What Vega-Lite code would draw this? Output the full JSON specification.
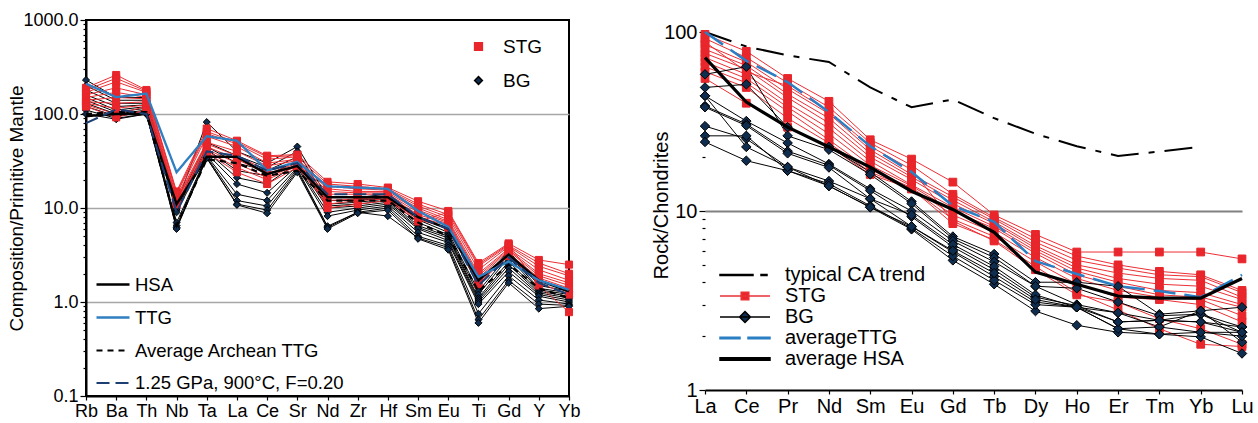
{
 "$schema": "https://vega.github.io/schema/vega-lite/v6.json",
 "background": "white",
 "padding": {"left": 6, "top": 10, "right": 5, "bottom": 0},
 "bounds": "flush",
 "spacing": 136,
 "resolve": {"scale": {"x": "independent", "y": "independent", "color": "independent", "shape": "independent", "fill": "independent", "stroke": "independent", "strokeDash": "independent", "strokeWidth": "independent", "size": "independent"}},
 "config": {
  "font": "Liberation Sans",
  "view": {"stroke": "black", "strokeWidth": 2},
  "axis": {"labelFont": "Liberation Sans", "titleFont": "Liberation Sans", "labelColor": "black", "titleColor": "black", "titleFontWeight": "normal", "domainColor": "black", "domainWidth": 2, "tickColor": "black", "tickWidth": 1.2, "labelOverlap": false},
  "legend": {"labelFont": "Liberation Sans", "labelColor": "black", "padding": 0, "labelLimit": 400}
 },
 "datasets": {
  "aRef": [
   {"series": "HSA", "Rb": 95, "Ba": 100, "Th": 100, "Nb": 11, "Ta": 35, "La": 35, "Ce": 23, "Sr": 28, "Nd": 13, "Zr": 13, "Hf": 13, "Sm": 8, "Eu": 6, "Ti": 1.7, "Gd": 3.2, "Y": 1.7, "Yb": 1.3},
   {"series": "TTG", "Rb": 210, "Ba": 151, "Th": 165, "Nb": 24, "Ta": 58, "La": 52, "Ce": 25, "Sr": 31, "Nd": 17, "Zr": 16.5, "Hf": 16, "Sm": 9.3, "Eu": 6.3, "Ti": 1.85, "Gd": 2.7, "Y": 1.7, "Yb": 1.35},
   {"series": "Average Archean TTG", "Rb": 100, "Ba": 105, "Th": 105, "Nb": 6.5, "Ta": 33, "La": 30, "Ce": 22, "Sr": 25, "Nd": 12, "Zr": 12, "Hf": 12, "Sm": 7, "Eu": 5, "Ti": 1.3, "Gd": 2.5, "Y": 1.4, "Yb": 1.1},
   {"series": "1.25 GPa, 900°C, F=0.20", "Rb": 80, "Ba": 112, "Th": 100, "Nb": 9, "Ta": 40, "La": 36, "Ce": 25, "Sr": 30, "Nd": 14, "Zr": 14, "Hf": 14, "Sm": 8, "Eu": 6, "Ti": 1.5, "Gd": 3, "Y": 1.6, "Yb": 1.2}
  ],
  "aSam": [
   {"g": "BG", "s": "B1", "Rb": 230, "Ba": 150, "Th": 150, "Nb": 11, "Ta": 82, "La": 40, "Ce": 30, "Sr": 45, "Nd": 13, "Zr": 13, "Hf": 14, "Sm": 8, "Eu": 6, "Ti": 1.5, "Gd": 3.5, "Y": 1.5, "Yb": 1.3},
   {"g": "BG", "s": "B2", "Rb": 200, "Ba": 140, "Th": 140, "Nb": 10.5, "Ta": 50, "La": 36, "Ce": 27, "Sr": 40, "Nd": 12, "Zr": 12, "Hf": 13, "Sm": 7.5, "Eu": 5.5, "Ti": 1.3, "Gd": 3.2, "Y": 1.4, "Yb": 1.25},
   {"g": "BG", "s": "B3", "Rb": 180, "Ba": 130, "Th": 130, "Nb": 10, "Ta": 45, "La": 30, "Ce": 25, "Sr": 35, "Nd": 11, "Zr": 11.5, "Hf": 12.5, "Sm": 7, "Eu": 5.2, "Ti": 1.2, "Gd": 3.0, "Y": 1.35, "Yb": 1.2},
   {"g": "BG", "s": "B4", "Rb": 160, "Ba": 120, "Th": 125, "Nb": 10, "Ta": 42, "La": 25, "Ce": 22, "Sr": 32, "Nd": 10.5, "Zr": 11, "Hf": 12, "Sm": 6.5, "Eu": 5, "Ti": 1.1, "Gd": 2.7, "Y": 1.3, "Yb": 1.15},
   {"g": "BG", "s": "B5", "Rb": 150, "Ba": 110, "Th": 120, "Nb": 9.5, "Ta": 40, "La": 21, "Ce": 18, "Sr": 30, "Nd": 10, "Zr": 10.5, "Hf": 11.5, "Sm": 6.2, "Eu": 4.8, "Ti": 1.05, "Gd": 2.5, "Y": 1.25, "Yb": 1.1},
   {"g": "BG", "s": "B6", "Rb": 140, "Ba": 105, "Th": 115, "Nb": 9, "Ta": 38, "La": 18, "Ce": 14.5, "Sr": 28, "Nd": 9, "Zr": 10, "Hf": 11, "Sm": 6, "Eu": 4.5, "Ti": 1.0, "Gd": 2.3, "Y": 1.2, "Yb": 1.05},
   {"g": "BG", "s": "B7", "Rb": 130, "Ba": 100, "Th": 110, "Nb": 7, "Ta": 36, "La": 14, "Ce": 12, "Sr": 27, "Nd": 8.2, "Zr": 9.5, "Hf": 10.5, "Sm": 5.5, "Eu": 4.3, "Ti": 0.95, "Gd": 2.1, "Y": 1.15, "Yb": 1.0},
   {"g": "BG", "s": "B8", "Rb": 120, "Ba": 95, "Th": 105, "Nb": 6.5, "Ta": 35, "La": 12, "Ce": 10.5, "Sr": 26, "Nd": 6.4, "Zr": 9, "Hf": 10, "Sm": 5, "Eu": 4, "Ti": 0.75, "Gd": 1.9, "Y": 1.05, "Yb": 0.95},
   {"g": "BG", "s": "B9", "Rb": 110, "Ba": 90, "Th": 100, "Nb": 6.2, "Ta": 34, "La": 11, "Ce": 9.5, "Sr": 25, "Nd": 6.2, "Zr": 9, "Hf": 8.2, "Sm": 4.8, "Eu": 3.8, "Ti": 0.65, "Gd": 1.7, "Y": 0.95, "Yb": 0.92},
   {"g": "BG", "s": "B10", "Rb": 100, "Ba": 88, "Th": 100, "Nb": 6, "Ta": 34, "La": 10.8, "Ce": 8.8, "Sr": 24, "Nd": 6, "Zr": 8.8, "Hf": 9.5, "Sm": 4.7, "Eu": 3.6, "Ti": 0.6, "Gd": 1.6, "Y": 0.85, "Yb": 0.9},
   {"g": "STG", "s": "S1", "Rb": 190, "Ba": 260, "Th": 180, "Nb": 15, "Ta": 70, "La": 52, "Ce": 36, "Sr": 37, "Nd": 19, "Zr": 18, "Hf": 16.5, "Sm": 11.8, "Eu": 9.3, "Ti": 2.6, "Gd": 4.2, "Y": 2.8, "Yb": 2.5},
   {"g": "STG", "s": "S2", "Rb": 170, "Ba": 220, "Th": 170, "Nb": 14, "Ta": 62, "La": 48, "Ce": 33, "Sr": 35, "Nd": 18, "Zr": 17, "Hf": 16, "Sm": 11, "Eu": 8.5, "Ti": 2.4, "Gd": 4.0, "Y": 2.6, "Yb": 2.0},
   {"g": "STG", "s": "S3", "Rb": 160, "Ba": 190, "Th": 160, "Nb": 13, "Ta": 58, "La": 45, "Ce": 30, "Sr": 33, "Nd": 17, "Zr": 16, "Hf": 15.5, "Sm": 10.5, "Eu": 8.0, "Ti": 2.2, "Gd": 3.9, "Y": 2.4, "Yb": 1.9},
   {"g": "STG", "s": "S4", "Rb": 150, "Ba": 170, "Th": 150, "Nb": 12.5, "Ta": 50, "La": 40, "Ce": 28, "Sr": 32, "Nd": 16, "Zr": 15, "Hf": 15, "Sm": 10, "Eu": 7.5, "Ti": 2.0, "Gd": 3.7, "Y": 2.2, "Yb": 1.7},
   {"g": "STG", "s": "S5", "Rb": 140, "Ba": 150, "Th": 145, "Nb": 12, "Ta": 48, "La": 36, "Ce": 25, "Sr": 31, "Nd": 15, "Zr": 14.5, "Hf": 14.5, "Sm": 9.5, "Eu": 7.2, "Ti": 1.9, "Gd": 3.6, "Y": 2.0, "Yb": 1.6},
   {"g": "STG", "s": "S6", "Rb": 135, "Ba": 130, "Th": 135, "Nb": 12, "Ta": 45, "La": 33, "Ce": 23, "Sr": 30, "Nd": 14, "Zr": 14, "Hf": 14, "Sm": 9, "Eu": 7.0, "Ti": 1.8, "Gd": 3.5, "Y": 1.9, "Yb": 1.5},
   {"g": "STG", "s": "S7", "Rb": 130, "Ba": 115, "Th": 125, "Nb": 11.5, "Ta": 42, "La": 30, "Ce": 21, "Sr": 29, "Nd": 13, "Zr": 13, "Hf": 13.5, "Sm": 8.5, "Eu": 6.8, "Ti": 1.7, "Gd": 3.3, "Y": 1.8, "Yb": 1.4},
   {"g": "STG", "s": "S8", "Rb": 125, "Ba": 100, "Th": 120, "Nb": 11, "Ta": 40, "La": 27, "Ce": 20, "Sr": 28, "Nd": 12, "Zr": 12.5, "Hf": 13, "Sm": 8, "Eu": 6.5, "Ti": 1.6, "Gd": 3.2, "Y": 1.7, "Yb": 1.3},
   {"g": "STG", "s": "S9", "Rb": 120, "Ba": 92, "Th": 110, "Nb": 11, "Ta": 39, "La": 24, "Ce": 18, "Sr": 27, "Nd": 11, "Zr": 12, "Hf": 12.5, "Sm": 7.5, "Eu": 6.2, "Ti": 1.55, "Gd": 3.1, "Y": 1.6, "Yb": 1.2},
   {"g": "STG", "s": "S10", "Rb": 180, "Ba": 240, "Th": 175, "Nb": 14.5, "Ta": 65, "La": 50, "Ce": 35, "Sr": 36, "Nd": 10, "Zr": 11, "Hf": 12, "Sm": 7.2, "Eu": 9, "Ti": 2.5, "Gd": 4.1, "Y": 1.5, "Yb": 0.78}
  ],
  "bAll": [
   {"series": "typical CA trend", "s": "CA", "La": 100, "Ce": 83, "Pr": 74, "Nd": 68, "Sm": 49, "Eu": 38, "Gd": 42, "Tb": 33, "Dy": 27, "Ho": 23, "Er": 20.3, "Tm": 21.5, "Yb": 22.8},
   {"series": "STG", "s": "T1", "La": 97, "Ce": 78, "Pr": 55, "Nd": 41, "Sm": 25, "Eu": 19.5, "Gd": 14.5, "Tb": 9.5, "Dy": 7.4, "Ho": 5.9, "Er": 5.9, "Tm": 5.9, "Yb": 5.9, "Lu": 5.4},
   {"series": "STG", "s": "T2", "La": 92, "Ce": 72, "Pr": 52, "Nd": 38, "Sm": 24, "Eu": 18, "Gd": 12.4, "Tb": 9.2, "Dy": 7.0, "Ho": 5.6, "Er": 5.0, "Tm": 4.6, "Yb": 4.4, "Lu": 3.6},
   {"series": "STG", "s": "T3", "La": 85, "Ce": 68, "Pr": 48, "Nd": 35, "Sm": 22, "Eu": 16, "Gd": 12, "Tb": 9, "Dy": 6.7, "Ho": 5.3, "Er": 4.8, "Tm": 4.4, "Yb": 4.3, "Lu": 3.5},
   {"series": "STG", "s": "T4", "La": 80, "Ce": 65, "Pr": 45, "Nd": 33, "Sm": 21, "Eu": 15.5, "Gd": 11.5, "Tb": 8.7, "Dy": 6.4, "Ho": 5.0, "Er": 4.5, "Tm": 4.2, "Yb": 4.1, "Lu": 3.3},
   {"series": "STG", "s": "T5", "La": 76, "Ce": 62, "Pr": 43, "Nd": 31, "Sm": 20, "Eu": 15, "Gd": 11, "Tb": 8.5, "Dy": 6.2, "Ho": 4.8, "Er": 4.2, "Tm": 3.9, "Yb": 3.8, "Lu": 3.2},
   {"series": "STG", "s": "T6", "La": 72, "Ce": 58, "Pr": 40, "Nd": 29, "Sm": 19, "Eu": 14, "Gd": 10.5, "Tb": 8.2, "Dy": 6.0, "Ho": 4.6, "Er": 4.0, "Tm": 3.6, "Yb": 3.5, "Lu": 3.0},
   {"series": "STG", "s": "T7", "La": 68, "Ce": 55, "Pr": 38, "Nd": 27, "Sm": 18, "Eu": 13.8, "Gd": 10, "Tb": 8, "Dy": 5.8, "Ho": 4.4, "Er": 3.8, "Tm": 3.4, "Yb": 3.3, "Lu": 2.9},
   {"series": "STG", "s": "T8", "La": 64, "Ce": 52, "Pr": 36, "Nd": 25, "Sm": 17, "Eu": 13.5, "Gd": 9.5, "Tb": 7.6, "Dy": 5.5, "Ho": 4.2, "Er": 3.6, "Tm": 3.3, "Yb": 3.2, "Lu": 2.6},
   {"series": "STG", "s": "T9", "La": 60, "Ce": 49, "Pr": 33, "Nd": 24, "Sm": 16.5, "Eu": 13.3, "Gd": 9, "Tb": 7.2, "Dy": 5.2, "Ho": 3.9, "Er": 3.3, "Tm": 3.2, "Yb": 3.0, "Lu": 2.4},
   {"series": "STG", "s": "T10", "La": 55, "Ce": 40, "Pr": 29.4, "Nd": 23, "Sm": 16, "Eu": 13.3, "Gd": 8.5, "Tb": 6.9, "Dy": 4.9, "Ho": 3.5, "Er": 2.8, "Tm": 2.2, "Yb": 1.8, "Lu": 1.75},
   {"series": "STG", "s": "T11", "La": 88, "Ce": 60, "Pr": 50, "Nd": 36, "Sm": 23, "Eu": 17, "Gd": 8.8, "Tb": 6.8, "Dy": 4.7, "Ho": 3.4, "Er": 3.1, "Tm": 2.5, "Yb": 2.2, "Lu": 1.8},
   {"series": "BG", "s": "G1", "La": 49, "Ce": 51, "Pr": 29.4, "Nd": 22.8, "Sm": 16.5, "Eu": 11.3, "Gd": 7.2, "Tb": 5.75, "Dy": 4.0, "Ho": 4.0, "Er": 3.8, "Tm": 2.65, "Yb": 2.77, "Lu": 2.9},
   {"series": "BG", "s": "G2", "La": 58, "Ce": 64, "Pr": 26.3, "Nd": 22, "Sm": 16, "Eu": 11, "Gd": 7.0, "Tb": 5.5, "Dy": 3.8, "Ho": 3.7, "Er": 3.1, "Tm": 2.6, "Yb": 2.65, "Lu": 2.25},
   {"series": "BG", "s": "G3", "La": 44, "Ce": 31.8, "Pr": 24, "Nd": 18.3, "Sm": 13.3, "Eu": 10, "Gd": 6.8, "Tb": 5.2, "Dy": 3.8, "Ho": 3.0, "Er": 2.7, "Tm": 2.45, "Yb": 2.4, "Lu": 2.25},
   {"series": "BG", "s": "G4", "La": 38.6, "Ce": 30.6, "Pr": 21.6, "Nd": 18, "Sm": 13, "Eu": 9.3, "Gd": 6.3, "Tb": 4.7, "Dy": 3.3, "Ho": 2.96, "Er": 2.4, "Tm": 2.45, "Yb": 2.65, "Lu": 2.1},
   {"series": "BG", "s": "G5", "La": 38, "Ce": 30, "Pr": 21, "Nd": 17.5, "Sm": 11.7, "Eu": 9.5, "Gd": 6.5, "Tb": 4.9, "Dy": 3.4, "Ho": 2.9, "Er": 2.7, "Tm": 2.25, "Yb": 2.1, "Lu": 2.1},
   {"series": "BG", "s": "G6", "La": 29.8, "Ce": 25.3, "Pr": 17.6, "Nd": 14.7, "Sm": 11.7, "Eu": 8.2, "Gd": 5.9, "Tb": 4.3, "Dy": 3.1, "Ho": 2.9, "Er": 2.2, "Tm": 2.25, "Yb": 2.77, "Lu": 1.85},
   {"series": "BG", "s": "G7", "La": 26.3, "Ce": 26.3, "Pr": 16.8, "Nd": 13.8, "Sm": 10.5, "Eu": 7.9, "Gd": 5.3, "Tb": 3.9, "Dy": 2.76, "Ho": 2.3, "Er": 2.1, "Tm": 2.05, "Yb": 1.98, "Lu": 1.6},
   {"series": "BG", "s": "G8", "La": 24.3, "Ce": 19.1, "Pr": 16.8, "Nd": 14.2, "Sm": 10.7, "Eu": 8.0, "Gd": 5.6, "Tb": 4.1, "Dy": 3.0, "Ho": 2.9, "Er": 2.2, "Tm": 2.05, "Yb": 2.1, "Lu": 2.0},
   {"series": "BG", "s": "G9", "La": 44, "Ce": 22.8, "Pr": 17.6, "Nd": 13.8, "Sm": 10.5, "Eu": 8.2, "Gd": 6.0, "Tb": 4.5, "Dy": 3.2, "Ho": 2.9, "Er": 2.4, "Tm": 2.45, "Yb": 2.4, "Lu": 2.1},
   {"series": "averageTTG", "s": "ATTG", "La": 100, "Ce": 69, "Pr": 52.5, "Nd": 35.7, "Sm": 23, "Eu": 16.5, "Gd": 10.7, "Tb": 8.7, "Dy": 5.25, "Ho": 4.45, "Er": 3.8, "Tm": 3.57, "Yb": 3.3, "Lu": 4.4},
   {"series": "average HSA", "s": "AHSA", "La": 72, "Ce": 40.6, "Pr": 29.4, "Nd": 22.8, "Sm": 17.6, "Eu": 12.9, "Gd": 10.2, "Tb": 7.6, "Dy": 4.56, "Ho": 3.9, "Er": 3.35, "Tm": 3.26, "Yb": 3.26, "Lu": 4.2}
  ]
 },
 "hconcat": [
  {
   "width": 483,
   "height": 376,
   "encoding": {
    "x": {"field": "el", "type": "ordinal", "sort": ["Rb","Ba","Th","Nb","Ta","La","Ce","Sr","Nd","Zr","Hf","Sm","Eu","Ti","Gd","Y","Yb"], "scale": {"type": "point", "padding": 0},
          "axis": {"title": null, "labelAngle": 0, "labelFontSize": 18, "tickSize": 4, "labelPadding": 2}},
    "y": {"field": "v", "type": "quantitative", "scale": {"type": "log", "domain": [0.1, 1000], "nice": false},
          "axis": {"title": "Composition/Primitive Mantle", "titleFontSize": 19, "titlePadding": -4, "labelFontSize": 18, "labelPadding": 2,
                   "values": [0.1,0.2,0.3,0.4,0.5,0.6,0.7,0.8,0.9,1,2,3,4,5,6,7,8,9,10,20,30,40,50,60,70,80,90,100,200,300,400,500,600,700,800,900,1000],
                   "labelExpr": "indexof([0.1,1,10,100,1000], datum.value) >= 0 ? format(datum.value, '.1f') : ''",
                   "tickSize": {"condition": {"test": "indexof([0.1,1,10,100,1000], datum.value) >= 0", "value": 6}, "value": 3},
                   "grid": true, "gridColor": "#a6a6a6", "gridWidth": 1.5,
                   "gridOpacity": {"condition": {"test": "indexof([1,10,100], datum.value) >= 0", "value": 1}, "value": 0}}}
   },
   "layer": [
    {
     "data": {"name": "aSam"},
     "transform": [{"filter": "datum.g === 'BG'"}, {"fold": ["Rb","Ba","Th","Nb","Ta","La","Ce","Sr","Nd","Zr","Hf","Sm","Eu","Ti","Gd","Y","Yb"], "as": ["el", "v"]}],
     "mark": {"type": "line", "color": "black", "strokeWidth": 1},
     "encoding": {"detail": {"field": "s"}}
    },
    {
     "data": {"name": "aSam"},
     "transform": [{"filter": "datum.g === 'STG'"}, {"fold": ["Rb","Ba","Th","Nb","Ta","La","Ce","Sr","Nd","Zr","Hf","Sm","Eu","Ti","Gd","Y","Yb"], "as": ["el", "v"]}],
     "mark": {"type": "line", "color": "#ec2f35", "strokeWidth": 1},
     "encoding": {"detail": {"field": "s"}}
    },
    {
     "data": {"name": "aSam"},
     "transform": [{"fold": ["Rb","Ba","Th","Nb","Ta","La","Ce","Sr","Nd","Zr","Hf","Sm","Eu","Ti","Gd","Y","Yb"], "as": ["el", "v"]}],
     "mark": {"type": "point", "filled": true, "opacity": 1, "size": 50, "strokeWidth": 1},
     "encoding": {
      "shape": {"field": "g", "type": "nominal", "scale": {"domain": ["STG", "BG"], "range": ["square", "diamond"]},
                "legend": {"title": null, "orient": "none", "legendX": 383, "legendY": 17, "labelFontSize": 19, "symbolSize": 60, "labelOffset": 15, "rowPadding": 14,
                           "encode": {"symbols": {"update": {
                             "fill": {"condition": {"test": "datum.value === 'STG'", "value": "#e8262b"}, "value": "#0f2d4f"},
                             "stroke": {"condition": {"test": "datum.value === 'STG'", "value": "#e8262b"}, "value": "black"},
                             "strokeWidth": {"value": 1}}}}}},
      "fill": {"field": "g", "type": "nominal", "scale": {"domain": ["STG", "BG"], "range": ["#e8262b", "#0f2d4f"]}, "legend": null},
      "stroke": {"field": "g", "type": "nominal", "scale": {"domain": ["STG", "BG"], "range": ["#e8262b", "black"]}, "legend": null}
     }
    },
    {
     "data": {"name": "aRef"},
     "transform": [{"fold": ["Rb","Ba","Th","Nb","Ta","La","Ce","Sr","Nd","Zr","Hf","Sm","Eu","Ti","Gd","Y","Yb"], "as": ["el", "v"]}],
     "mark": {"type": "line"},
     "encoding": {
      "color": {"field": "series", "type": "nominal", "scale": {"domain": ["HSA", "TTG", "Average Archean TTG", "1.25 GPa, 900°C, F=0.20"], "range": ["black", "#2f7fc1", "black", "#1e3f73"]},
                "legend": {"title": null, "orient": "bottom-left", "offset": 3, "labelFontSize": 18.5, "symbolType": "M-1.65,0H1.65", "symbolSize": 400, "symbolOffset": 12.5, "labelOffset": 10.5, "rowPadding": 12,
                           "encode": {"symbols": {"update": {
                             "strokeDash": {"condition": [{"test": "datum.value === 'Average Archean TTG'", "value": [6, 5]}, {"test": "indexof(datum.value, 'GPa') >= 0", "value": [13, 6]}], "value": [1, 0]},
                             "strokeWidth": {"value": 1.5}}}}}},
      "strokeDash": {"field": "series", "type": "nominal", "scale": {"domain": ["HSA", "TTG", "Average Archean TTG", "1.25 GPa, 900°C, F=0.20"], "range": [[1, 0], [1, 0], [6, 5], [13, 6]]}, "legend": null},
      "strokeWidth": {"field": "series", "type": "nominal", "scale": {"domain": ["HSA", "TTG", "Average Archean TTG", "1.25 GPa, 900°C, F=0.20"], "range": [2.5, 2, 1.5, 1.5]}, "legend": null}
     }
    },
    {
     "data": {"values": [{}]},
     "mark": {"type": "text", "text": "A", "fontSize": 24, "align": "left", "baseline": "middle", "dx": 5, "font": "Liberation Sans", "color": "black"},
     "encoding": {"x": {"datum": "Rb"}, "y": {"datum": 680}}
    }
   ]
  },
  {
   "width": 537,
   "height": 370,
   "view": {"stroke": null},
   "resolve": {"scale": {"shape": "independent", "fill": "independent", "stroke": "independent", "size": "independent"}},
   "encoding": {
    "x": {"field": "el", "type": "ordinal", "sort": ["La","Ce","Pr","Nd","Sm","Eu","Gd","Tb","Dy","Ho","Er","Tm","Yb","Lu"], "scale": {"type": "point", "padding": 0},
          "axis": {"title": null, "labelAngle": 0, "labelFontSize": 20, "tickSize": 4, "labelPadding": 2}},
    "y": {"field": "v", "type": "quantitative", "scale": {"type": "log", "domain": [1, 116.7], "nice": false},
          "axis": {"title": "Rock/Chondrites", "titleFontSize": 20, "titlePadding": -8, "labelFontSize": 20, "labelPadding": 2, "domain": false,
                   "values": [1,2,3,4,5,6,7,8,9,10,20,30,40,50,60,70,80,90,100],
                   "labelExpr": "indexof([1,10,100], datum.value) >= 0 ? format(datum.value, 'd') : ''",
                   "tickSize": {"condition": {"test": "indexof([1,10,100], datum.value) >= 0", "value": 6}, "value": 3},
                   "grid": true, "gridColor": "#808080", "gridWidth": 2,
                   "gridOpacity": {"condition": {"test": "datum.value === 10", "value": 1}, "value": 0}}}
   },
   "layer": [
    {
     "data": {"name": "bAll"},
     "transform": [{"filter": "datum.series === 'typical CA trend'"}, {"fold": ["La","Ce","Pr","Nd","Sm","Eu","Gd","Tb","Dy","Ho","Er","Tm","Yb","Lu"], "as": ["el", "v"]}],
     "mark": {"type": "line", "color": "black", "strokeWidth": 2, "strokeDash": [28, 10, 6, 10]},
     "encoding": {"detail": {"field": "s"}}
    },
    {
     "data": {"name": "bAll"},
     "transform": [{"filter": "datum.series === 'STG'"}, {"fold": ["La","Ce","Pr","Nd","Sm","Eu","Gd","Tb","Dy","Ho","Er","Tm","Yb","Lu"], "as": ["el", "v"]}],
     "mark": {"type": "line", "color": "#ec2f35", "strokeWidth": 1},
     "encoding": {"detail": {"field": "s"}}
    },
    {
     "data": {"name": "bAll"},
     "transform": [{"filter": "datum.series === 'BG'"}, {"fold": ["La","Ce","Pr","Nd","Sm","Eu","Gd","Tb","Dy","Ho","Er","Tm","Yb","Lu"], "as": ["el", "v"]}],
     "mark": {"type": "line", "color": "black", "strokeWidth": 1},
     "encoding": {"detail": {"field": "s"}}
    },
    {
     "data": {"name": "bAll"},
     "transform": [{"filter": "datum.series === 'STG' || datum.series === 'BG'"}, {"fold": ["La","Ce","Pr","Nd","Sm","Eu","Gd","Tb","Dy","Ho","Er","Tm","Yb","Lu"], "as": ["el", "v"]}],
     "mark": {"type": "point", "filled": true, "opacity": 1, "strokeWidth": 1},
     "encoding": {
      "shape": {"field": "series", "type": "nominal", "scale": {"domain": ["STG", "BG"], "range": ["square", "diamond"]}, "legend": null},
      "fill": {"field": "series", "type": "nominal", "scale": {"domain": ["STG", "BG"], "range": ["#e8262b", "#0f2d4f"]}, "legend": null},
      "stroke": {"field": "series", "type": "nominal", "scale": {"domain": ["STG", "BG"], "range": ["#e8262b", "black"]}, "legend": null},
      "size": {"field": "series", "type": "nominal", "scale": {"domain": ["STG", "BG"], "range": [60, 90]}, "legend": null}
     }
    },
    {
     "data": {"name": "bAll"},
     "transform": [{"filter": "datum.series === 'averageTTG'"}, {"fold": ["La","Ce","Pr","Nd","Sm","Eu","Gd","Tb","Dy","Ho","Er","Tm","Yb","Lu"], "as": ["el", "v"]}],
     "mark": {"type": "line", "color": "#2a7fc4", "strokeWidth": 2.5, "strokeDash": [22, 9]},
     "encoding": {"detail": {"field": "s"}}
    },
    {
     "data": {"name": "bAll"},
     "transform": [{"filter": "datum.series === 'average HSA'"}, {"fold": ["La","Ce","Pr","Nd","Sm","Eu","Gd","Tb","Dy","Ho","Er","Tm","Yb","Lu"], "as": ["el", "v"]}],
     "mark": {"type": "line", "color": "black", "strokeWidth": 3.2},
     "encoding": {"detail": {"field": "s"}}
    },
    {
     "data": {"name": "bAll"},
     "transform": [{"filter": "false"}],
     "mark": {"type": "point", "filled": true, "opacity": 1, "size": 400},
     "encoding": {
      "shape": {"field": "series", "type": "nominal", "scale": {"domain": ["typical CA trend", "STG", "BG", "averageTTG", "average HSA"], "range": ["M-2.5,-0.05H0.8V0.05H-2.5ZM1.6,-0.05H2.2V0.05H1.6Z", "M-2.5,0H2.5M-0.38,-0.38H0.38V0.38H-0.38Z", "M-2.5,0H2.5M0,-0.55L0.55,0L0,0.55L-0.55,0Z", "M-2.5,-0.07H-0.5V0.07H-2.5ZM0.3,-0.07H2.5V0.07H0.3Z", "M-2.5,-0.12H2.5V0.12H-2.5Z"]},
                "legend": {"title": null, "orient": "bottom-left", "offset": 21, "labelFontSize": 20, "symbolSize": 400, "symbolOffset": 8, "labelOffset": 29, "rowPadding": 0}},
      "fill": {"field": "series", "type": "nominal", "scale": {"domain": ["typical CA trend", "STG", "BG", "averageTTG", "average HSA"], "range": ["black", "#e8262b", "#0f2d4f", "#2a7fc4", "black"]},
                "legend": {"title": null, "orient": "bottom-left", "offset": 21, "labelFontSize": 20, "symbolSize": 400, "symbolOffset": 8, "labelOffset": 29, "rowPadding": 0}},
      "stroke": {"field": "series", "type": "nominal", "scale": {"domain": ["typical CA trend", "STG", "BG", "averageTTG", "average HSA"], "range": ["black", "#ec2f35", "black", "#2a7fc4", "black"]},
                "legend": {"title": null, "orient": "bottom-left", "offset": 21, "labelFontSize": 20, "symbolSize": 400, "symbolOffset": 8, "labelOffset": 29, "rowPadding": 0}}
     }
    },
    {
     "data": {"values": [{}]},
     "mark": {"type": "rule", "color": "black", "strokeWidth": 2},
     "encoding": {"x": {"datum": "La"}, "x2": {"datum": "Lu"}, "y": {"datum": 100}}
    },
    {
     "data": {"values": [{}]},
     "mark": {"type": "rule", "color": "black", "strokeWidth": 2},
     "encoding": {"x": {"datum": "La"}, "y": {"datum": 1}, "y2": {"datum": 100}}
    },
    {
     "data": {"values": [{}]},
     "mark": {"type": "rule", "color": "black", "strokeWidth": 2},
     "encoding": {"x": {"datum": "Lu"}, "y": {"datum": 1}, "y2": {"datum": 100}}
    },
    {
     "data": {"values": [{}]},
     "mark": {"type": "text", "text": "B", "fontSize": 27, "align": "right", "baseline": "middle", "dx": -13, "font": "Open Sans", "color": "black"},
     "encoding": {"x": {"datum": "Lu"}, "y": {"datum": 77}}
    }
   ]
  }
 ]
}
